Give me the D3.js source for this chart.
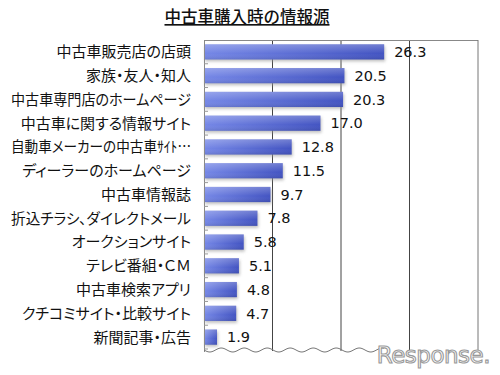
<!DOCTYPE html>
<html>
<head>
<meta charset="utf-8">
<script src="https://cdn.jsdelivr.net/npm/d3@7"></script>
<style>
  body { margin: 0; background: #fff; }
  svg { display: block; }
</style>
</head>
<body>
<div id="chart"></div>
<script>
const title = "中古車購入時の情報源";
const categories = [
  "中古車販売店の店頭",
  "家族・友人・知人",
  "中古車専門店のホームページ",
  "中古車に関する情報サイト",
  "自動車メーカーの中古車ｻｲﾄ…",
  "ディーラーのホームページ",
  "中古車情報誌",
  "折込チラシ、ダイレクトメール",
  "オークションサイト",
  "テレビ番組・ＣＭ",
  "中古車検索アプリ",
  "クチコミサイト・比較サイト",
  "新聞記事・広告"
];
const values = [26.3, 20.5, 20.3, 17.0, 12.8, 11.5, 9.7, 7.8, 5.8, 5.1, 4.8, 4.7, 1.9];
const gridTicks = [10, 20, 30];

const W = 500, H = 375;
const plotLeft = 204, plotRight = 478, plotTop = 40, plotBottom = 349;

const svg = d3.select("#chart").append("svg")
  .attr("width", W)
  .attr("height", H);

const defs = svg.append("defs");
const grad = defs.append("linearGradient").attr("id", "barGrad")
  .attr("x1", "0%").attr("x2", "100%").attr("y1", "0%").attr("y2", "0%");
grad.append("stop").attr("offset", "0%").attr("stop-color", "#7587e6");
grad.append("stop").attr("offset", "100%").attr("stop-color", "#4354c2");
const vgrad = defs.append("linearGradient").attr("id", "barShine")
  .attr("x1", "0%").attr("x2", "0%").attr("y1", "0%").attr("y2", "100%");
vgrad.append("stop").attr("offset", "0%").attr("stop-color", "#fff").attr("stop-opacity", 0.25);
vgrad.append("stop").attr("offset", "60%").attr("stop-color", "#fff").attr("stop-opacity", 0);
vgrad.append("stop").attr("offset", "100%").attr("stop-color", "#000").attr("stop-opacity", 0.1);
const blur = defs.append("filter").attr("id", "shadow")
  .attr("x", "-10%").attr("y", "-30%").attr("width", "130%").attr("height", "180%");
blur.append("feGaussianBlur").attr("stdDeviation", 1.5);

const x = d3.scaleLinear().domain([0, 40]).range([plotLeft, plotRight]);
const y = d3.scaleBand().domain(categories).range([plotTop, plotBottom]).paddingInner(0.36).paddingOuter(0.18);

// Title
svg.append("text")
  .attr("x", 247)
  .attr("y", 23)
  .attr("text-anchor", "middle")
  .style("font-family", "'Noto Sans CJK JP', sans-serif")
  .style("font-size", "16.5px")
  .style("font-weight", 500)
  .style("fill", "#111")
  .style("text-decoration", "underline")
  .text(title);

// Grid lines
svg.append("g")
  .selectAll("line")
  .data(gridTicks)
  .enter()
  .append("line")
  .attr("x1", d => x(d)).attr("x2", d => x(d))
  .attr("y1", plotTop).attr("y2", 351)
  .attr("stroke", "#444")
  .attr("stroke-width", 1);

// Frame: top and right
svg.append("line")
  .attr("x1", plotLeft).attr("x2", plotRight).attr("y1", plotTop + 0.5).attr("y2", plotTop + 0.5)
  .attr("stroke", "#888");
svg.append("line")
  .attr("x1", plotRight).attr("x2", plotRight).attr("y1", plotTop).attr("y2", 351)
  .attr("stroke", "#777");

// Left axis with inner ticks at band boundaries
svg.append("line")
  .attr("x1", plotLeft + 0.5).attr("x2", plotLeft + 0.5).attr("y1", plotTop).attr("y2", 352)
  .attr("stroke", "#888");
const step = y.step();
const boundaries = categories.map(c => y(c) - step * y.paddingInner() / 2);
boundaries.push(plotBottom);
svg.append("g")
  .selectAll("line")
  .data(boundaries.slice(1))
  .enter()
  .append("line")
  .attr("x1", plotLeft).attr("x2", plotLeft + 4)
  .attr("y1", d => d).attr("y2", d => d)
  .attr("stroke", "#999");

// Wavy break line at the bottom
const wave = d3.range(plotLeft, 385, 1).map(px => [px, 350 + 2 * Math.sin((px - plotLeft) / 23 * 2 * Math.PI)]);
svg.append("path")
  .attr("d", d3.line()(wave))
  .attr("fill", "none")
  .attr("stroke", "#777")
  .attr("stroke-width", 1);

// Bars (shadow, fill, shine)
const bars = svg.append("g")
  .selectAll("g")
  .data(values)
  .enter()
  .append("g");

bars.append("rect")
  .attr("x", plotLeft + 1)
  .attr("y", (d, i) => y(categories[i]) + 2)
  .attr("width", d => x(d) - plotLeft)
  .attr("height", y.bandwidth())
  .attr("fill", "#999")
  .attr("opacity", 0.6)
  .attr("filter", "url(#shadow)");

bars.append("rect")
  .attr("x", plotLeft + 1)
  .attr("y", (d, i) => y(categories[i]))
  .attr("width", d => x(d) - plotLeft - 1)
  .attr("height", y.bandwidth())
  .attr("fill", "url(#barGrad)");

bars.append("rect")
  .attr("x", plotLeft + 1)
  .attr("y", (d, i) => y(categories[i]))
  .attr("width", d => x(d) - plotLeft - 1)
  .attr("height", y.bandwidth())
  .attr("fill", "url(#barShine)");

// Category labels (proportional kana, squeezed if wider than the gutter)
svg.append("g")
  .selectAll("text")
  .data(categories)
  .enter()
  .append("text")
  .attr("x", 191)
  .attr("y", d => y(d) + y.bandwidth() / 2)
  .attr("dy", "0.36em")
  .attr("text-anchor", "end")
  .style("font-family", "'Noto Sans CJK JP', sans-serif")
  .style("font-size", "15px")
  .style("font-feature-settings", "'palt'")
  .style("fill", "#111")
  .text(d => d)
  .each(function() {
    const len = this.getComputedTextLength();
    if (len > 180) {
      d3.select(this).attr("textLength", 180).attr("lengthAdjust", "spacingAndGlyphs");
    }
  });

// Value labels
svg.append("g")
  .selectAll("text")
  .data(values)
  .enter()
  .append("text")
  .attr("x", d => x(d) + 10)
  .attr("y", (d, i) => y(categories[i]) + y.bandwidth() / 2)
  .attr("dy", "0.36em")
  .style("font-family", "'DejaVu Sans', sans-serif")
  .style("font-size", "14.5px")
  .style("fill", "#111")
  .text(d => d.toFixed(1));

// Watermark
svg.append("text")
  .attr("x", 490)
  .attr("y", 363)
  .attr("text-anchor", "end")
  .style("font-family", "'DejaVu Sans', sans-serif")
  .style("font-size", "23px")
  .style("fill", "#fff")
  .style("stroke", "#999")
  .style("stroke-width", 1.1)
  .style("letter-spacing", "-0.5px")
  .text("Response.");
</script>
</body>
</html>
